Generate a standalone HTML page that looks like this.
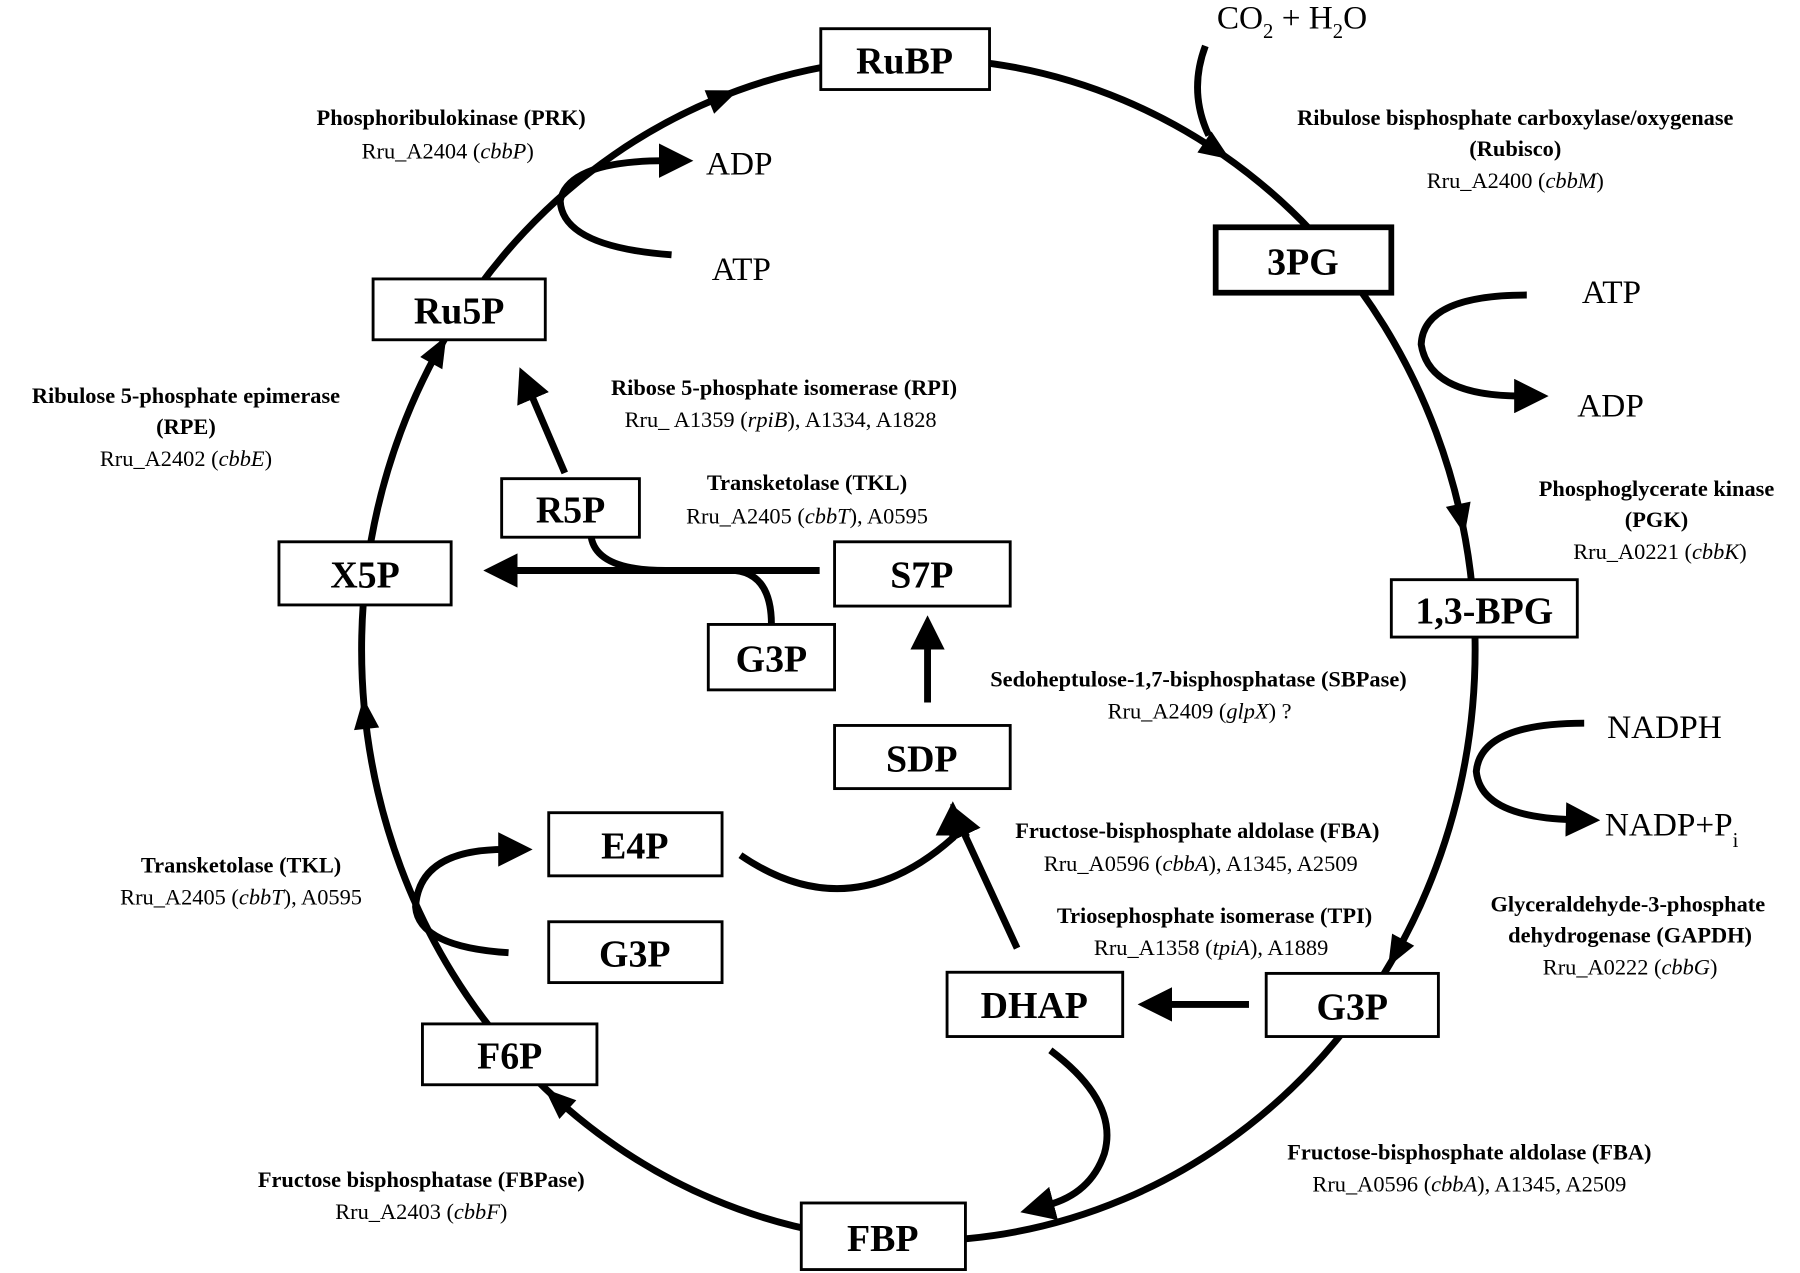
<!DOCTYPE html>
<html><head><meta charset="utf-8"><style>
html,body{margin:0;padding:0;background:#fff;}
svg{display:block;}
text{font-family:"Liberation Serif",serif;fill:#000;}
.b{font-weight:bold;font-size:19.5px;}
.n{font-size:19.5px;}
.box{fill:#fff;stroke:#000;stroke-width:2.5;}
.bt{font-weight:bold;font-size:33px;text-anchor:middle;}
.m{font-size:29px;}
.ln{fill:none;stroke:#000;stroke-width:6;}
</style></head><body>
<svg width="1800" height="1273" viewBox="0 0 1568 1109" preserveAspectRatio="none" xmlns="http://www.w3.org/2000/svg">
<defs>
<marker id="a" markerWidth="5" markerHeight="5" refX="1" refY="2.5" orient="auto" markerUnits="strokeWidth"><path d="M0,0 L5,2.5 L0,5 z" fill="#000"/></marker>
<polygon id="h" points="14,0 -13,-11 -13,11"/>
</defs>
<ellipse cx="800" cy="566" rx="485" ry="515" class="ln"/>
<g fill="#000">
<use href="#h" transform="translate(630,84) rotate(-22)"/>
<use href="#h" transform="translate(1060,131) rotate(34)"/>
<use href="#h" transform="translate(1273,452) rotate(78)"/>
<use href="#h" transform="translate(1216,830) rotate(119)"/>
<use href="#h" transform="translate(485,958) rotate(222)"/>
<use href="#h" transform="translate(318,622) rotate(264)"/>
<use href="#h" transform="translate(382,305) rotate(-61)"/>
</g>
<path d="M1050,40 Q1035,80 1053,118" class="ln"/>
<text x="1060" y="25" class="m">CO<tspan font-size="18" dy="8">2</tspan><tspan dy="-8"> + H</tspan><tspan font-size="18" dy="8">2</tspan><tspan dy="-8">O</tspan></text>
<path d="M585,222 Q490,215 488,175 Q495,140 580,140" class="ln" marker-end="url(#a)"/>
<text x="615" y="152" class="m">ADP</text>
<text x="620" y="244" class="m">ATP</text>
<path d="M1330,257 Q1240,257 1238,300 Q1245,345 1325,345" class="ln" marker-end="url(#a)"/>
<text x="1378" y="264" class="m">ATP</text>
<text x="1374" y="363" class="m">ADP</text>
<path d="M1380,630 Q1290,630 1286,672 Q1290,712 1370,714" class="ln" marker-end="url(#a)"/>
<text x="1400" y="643" class="m">NADPH</text>
<text x="1398" y="728" class="m">NADP+P<tspan font-size="18" dy="10">i</tspan></text>
<path d="M492,412 L462,342" class="ln" marker-end="url(#a)"/>
<path d="M714,497 L445,497" class="ln" marker-end="url(#a)"/>
<path d="M515,468 Q520,497 580,497" class="ln"/>
<path d="M672,544 Q672,500 640,497" class="ln"/>
<path d="M808,612 L808,560" class="ln" marker-end="url(#a)"/>
<path d="M645,745 Q740,810 830,730 L830,722" class="ln" marker-end="url(#a)"/>
<path d="M886,826 L838,722" class="ln" marker-end="url(#a)"/>
<path d="M1088,875 L1015,875" class="ln" marker-end="url(#a)"/>
<path d="M915,915 Q975,960 962,1005 Q950,1040 912,1050" class="ln" marker-end="url(#a)"/>
<path d="M443,830 Q365,825 362,790 Q365,740 440,740" class="ln" marker-end="url(#a)"/>
<rect x="715" y="25" width="147" height="53" class="box"/><text x="788" y="64" class="bt">RuBP</text>
<rect x="1059" y="198" width="153" height="57" class="box" style="stroke-width:5"/><text x="1135" y="239" class="bt">3PG</text>
<rect x="1212" y="505" width="162" height="50" class="box"/><text x="1293" y="543" class="bt">1,3-BPG</text>
<rect x="1103" y="848" width="150" height="55" class="box"/><text x="1178" y="888" class="bt">G3P</text>
<rect x="698" y="1048" width="143" height="58" class="box"/><text x="769" y="1090" class="bt">FBP</text>
<rect x="368" y="892" width="152" height="53" class="box"/><text x="444" y="931" class="bt">F6P</text>
<rect x="243" y="472" width="150" height="55" class="box"/><text x="318" y="512" class="bt">X5P</text>
<rect x="325" y="243" width="150" height="53" class="box"/><text x="400" y="282" class="bt">Ru5P</text>
<rect x="437" y="417" width="120" height="51" class="box"/><text x="497" y="455" class="bt">R5P</text>
<rect x="727" y="472" width="153" height="56" class="box"/><text x="803" y="512" class="bt">S7P</text>
<rect x="617" y="544" width="110" height="57" class="box"/><text x="672" y="585" class="bt">G3P</text>
<rect x="727" y="632" width="153" height="55" class="box"/><text x="803" y="672" class="bt">SDP</text>
<rect x="478" y="708" width="151" height="55" class="box"/><text x="553" y="748" class="bt">E4P</text>
<rect x="478" y="803" width="151" height="53" class="box"/><text x="553" y="842" class="bt">G3P</text>
<rect x="825" y="847" width="153" height="56" class="box"/><text x="901" y="887" class="bt">DHAP</text>
<g text-anchor="middle">
<text x="393" y="109" class="b">Phosphoribulokinase  (PRK)</text>
<text x="390" y="138" class="n">Rru_A2404 (<tspan font-style="italic">cbbP</tspan>)</text>
<text x="1320" y="109" class="b">Ribulose bisphosphate carboxylase/oxygenase</text>
<text x="1320" y="136" class="b">(Rubisco)</text>
<text x="1320" y="164" class="n">Rru_A2400  (<tspan font-style="italic">cbbM</tspan>)</text>
<text x="162" y="351" class="b">Ribulose 5-phosphate epimerase</text>
<text x="162" y="378" class="b">(RPE)</text>
<text x="162" y="406" class="n">Rru_A2402 (<tspan font-style="italic">cbbE</tspan>)</text>
<text x="683" y="344" class="b">Ribose 5-phosphate isomerase (RPI)</text>
<text x="680" y="372" class="n">Rru_ A1359 (<tspan font-style="italic">rpiB</tspan>), A1334, A1828</text>
<text x="703" y="427" class="b">Transketolase (TKL)</text>
<text x="703" y="456" class="n">Rru_A2405 (<tspan font-style="italic">cbbT</tspan>), A0595</text>
<text x="1443" y="432" class="b">Phosphoglycerate kinase</text>
<text x="1443" y="459" class="b">(PGK)</text>
<text x="1446" y="487" class="n">Rru_A0221  (<tspan font-style="italic">cbbK</tspan>)</text>
<text x="1044" y="598" class="b">Sedoheptulose-1,7-bisphosphatase (SBPase)</text>
<text x="1045" y="626" class="n">Rru_A2409 (<tspan font-style="italic">glpX</tspan>) ?</text>
<text x="1043" y="730" class="b">Fructose-bisphosphate aldolase (FBA)</text>
<text x="1046" y="759" class="n">Rru_A0596 (<tspan font-style="italic">cbbA</tspan>), A1345, A2509</text>
<text x="210" y="760" class="b">Transketolase (TKL)</text>
<text x="210" y="788" class="n">Rru_A2405 (<tspan font-style="italic">cbbT</tspan>), A0595</text>
<text x="1058" y="804" class="b">Triosephosphate isomerase  (TPI)</text>
<text x="1055" y="832" class="n">Rru_A1358 (<tspan font-style="italic">tpiA</tspan>), A1889</text>
<text x="1418" y="794" class="b">Glyceraldehyde-3-phosphate</text>
<text x="1420" y="821" class="b">dehydrogenase (GAPDH)</text>
<text x="1420" y="849" class="n">Rru_A0222 (<tspan font-style="italic">cbbG</tspan>)</text>
<text x="1280" y="1010" class="b">Fructose-bisphosphate aldolase  (FBA)</text>
<text x="1280" y="1038" class="n">Rru_A0596 (<tspan font-style="italic">cbbA</tspan>), A1345, A2509</text>
<text x="367" y="1034" class="b">Fructose bisphosphatase (FBPase)</text>
<text x="367" y="1062" class="n">Rru_A2403 (<tspan font-style="italic">cbbF</tspan>)</text>
</g>
</svg>
</body></html>
